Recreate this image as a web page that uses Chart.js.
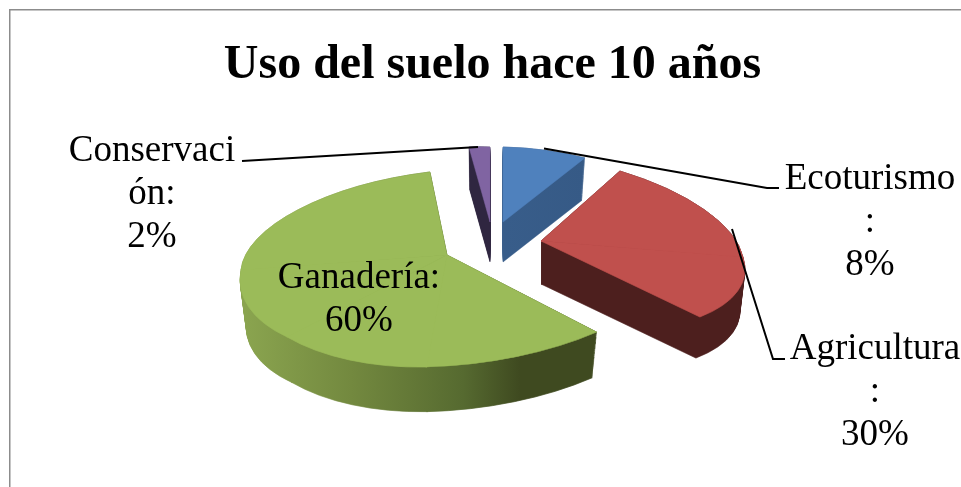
<!DOCTYPE html>
<html>
<head>
<meta charset="utf-8">
<style>html,body{margin:0;padding:0;background:#fff}#w{position:absolute;left:0;top:0;width:961px;height:487px}</style>
<script src="https://cdn.jsdelivr.net/npm/chart.js@4"></script>
</head>
<body>
<div id="w"><canvas id="c" width="961" height="487"></canvas></div>
<script>
// ---- data ----
const categories = ['Ecoturismo', 'Agricultura', 'Ganadería', 'Conservación'];
const seriesValues = [8, 30, 60, 2];
const titleText = 'Uso del suelo hace 10 años';
// ---- style ----
const topColors = ['#4F81BD', '#C0504D', '#9BBB59', '#8064A2'];
const wallStops = [
  [[0, '#385D8A'], [1, '#365A86']],
  [[0, '#4D1F1E'], [1, '#4D1F1E']],
  [[0, '#8AA44F'], [0.3, '#73893F'], [0.62, '#566A30'], [0.78, '#3F4A20'], [1, '#3F4A20']],
  [[0, '#2F2640'], [1, '#2F2640']]
];
const wallRange = [[503, 585], [541, 745], [245, 597], [469, 490]];
// exploded 3-D view of each slice: hub, extrusion, and projection per quadrant
const views = [
  {hub: [503, 222], depth: 40, shrink: .035, quads: [{from: 0, to: 360, m: [170, 3.5, 0, 75]}]},
  {hub: [541, 241], depth: 43, shrink: .025, quads: [
    {from: 0, to: 90, m: [202, 16, 21, 88.7]},
    {from: 90, to: 360, m: [202, 16, 28.3, 89.2]}]},
  {hub: [447, 255], depth: 48, shrink: .03, quads: [
    {from: 0, to: 180, m: [240, -6.7, -20, 112]},
    {from: 180, to: 225, m: [206, -4, -20, 112]},
    {from: 225, to: 270, m: [206, -15, -20, 101]},
    {from: 270, to: 360, m: [206, -15, -8.8, 85.6]}]},
  {hub: [490, 222], depth: 40, shrink: .03, quads: [{from: 0, to: 360, m: [168, 4.8, 0, 75]}]}
];
const drawOrder = [3, 0, 1, 2];
const serif = '"Liberation Serif", "Times New Roman", serif';
const labelSize = 37, lineGap = 43;
const labels = [
  {lines: ['Ecoturismo', ':', '8%'], x: 870, y: 189, leader: [[544, 148.5], [767, 188], [779, 188]]},
  {lines: ['Agricultura', ':', '30%'], x: 875, y: 359, leader: [[732, 229], [773, 359], [785, 359]]},
  {lines: ['Ganadería:', '60%'], x: 359, y: 288},
  {lines: ['Conservaci', 'ón:', '2%'], x: 152, y: 161, leader: [[242, 161], [478, 147]]}
];

function paintSlice(ctx, arc, view, lift, scale) {
  const s0 = arc.startAngle, e0 = arc.endAngle, c0 = arc.circumference;
  const R = arc.outerRadius;
  const s = (s0 + Math.PI / 2) * 180 / Math.PI, e = (e0 + Math.PI / 2) * 180 / Math.PI;
  view.quads.forEach(q => {
    const a = Math.max(s, q.from), b = Math.min(e, q.to);
    if (b <= a) return;
    const bb = Math.min(e, b + 0.25);
    arc.startAngle = a * Math.PI / 180 - Math.PI / 2;
    arc.endAngle = bb * Math.PI / 180 - Math.PI / 2;
    arc.circumference = arc.endAngle - arc.startAngle;
    ctx.save();
    ctx.translate(view.hub[0], view.hub[1] + lift);
    ctx.scale(scale, scale);
    ctx.transform(q.m[0] / R, q.m[1] / R, q.m[2] / R, q.m[3] / R, 0, 0);
    ctx.translate(-arc.x, -arc.y);
    arc.draw(ctx);
    ctx.restore();
  });
  arc.startAngle = s0; arc.endAngle = e0; arc.circumference = c0;
}

const pie3d = {
  id: 'pie3d',
  beforeDatasetsDraw(chart) {
    const ctx = chart.ctx, arcs = chart.getDatasetMeta(0).data;
    drawOrder.forEach(i => {
      const arc = arcs[i], v = views[i];
      const off = document.createElement('canvas');
      off.width = chart.width; off.height = chart.height;
      const o = off.getContext('2d');
      for (let t = v.depth; t >= 0; t--) {
        paintSlice(o, arc, v, t, 1 - v.shrink * t / v.depth);
      }
      o.globalCompositeOperation = 'source-in';
      const g = o.createLinearGradient(wallRange[i][0], 0, wallRange[i][1], 0);
      wallStops[i].forEach(st => g.addColorStop(st[0], st[1]));
      o.fillStyle = g;
      o.fillRect(0, 0, off.width, off.height);
      ctx.drawImage(off, 0, 0);
      paintSlice(ctx, arc, v, 0, 1);
    });
    return false;
  },
  afterDraw(chart) {
    const ctx = chart.ctx;
    ctx.save();
    // frame
    ctx.strokeStyle = '#8C8C8C';
    ctx.lineWidth = 1.5;
    ctx.beginPath();
    ctx.moveTo(9.75, 487); ctx.lineTo(9.75, 9.75); ctx.lineTo(961, 9.75);
    ctx.stroke();
    // leader lines and labels
    ctx.strokeStyle = '#000';
    ctx.lineWidth = 2;
    ctx.fillStyle = '#000';
    ctx.font = labelSize + 'px ' + serif;
    ctx.textAlign = 'center';
    ctx.textBaseline = 'alphabetic';
    labels.forEach(l => {
      if (l.leader) {
        ctx.beginPath();
        l.leader.forEach((p, k) => k ? ctx.lineTo(p[0], p[1]) : ctx.moveTo(p[0], p[1]));
        ctx.stroke();
      }
      l.lines.forEach((t, k) => ctx.fillText(t, l.x, l.y + k * lineGap));
    });
    ctx.restore();
  }
};

new Chart(document.getElementById('c'), {
  type: 'pie',
  data: {
    labels: categories,
    datasets: [{data: seriesValues, backgroundColor: topColors, borderColor: topColors, borderWidth: 0.8}]
  },
  options: {
    responsive: false,
    animation: false,
    layout: {padding: {left: 24}},
    plugins: {
      legend: {display: false},
      tooltip: {enabled: false},
      title: {
        display: true,
        text: titleText,
        color: '#000',
        font: {family: serif, size: 48, weight: 'bold'},
        padding: {top: 37, bottom: 10}
      }
    }
  },
  plugins: [pie3d]
});
</script>
</body>
</html>
